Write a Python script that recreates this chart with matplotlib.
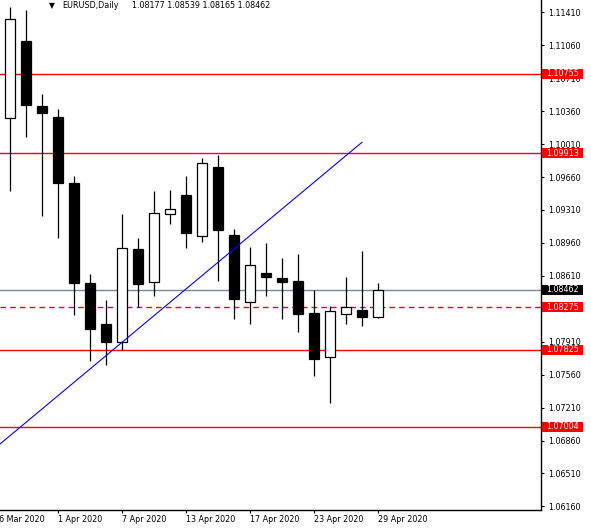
import numpy as np
import matplotlib
matplotlib.use("Agg")
import matplotlib.pyplot as plt
from matplotlib.patches import Rectangle

plt.rcParams['font.family'] = ['DejaVu Sans']

# EURUSD daily candles, 27 Mar .. 29 Apr 2020
dates = ["27 Mar", "30 Mar", "31 Mar", "1 Apr", "2 Apr", "3 Apr", "6 Apr",
         "7 Apr", "8 Apr", "9 Apr", "10 Apr", "13 Apr", "14 Apr", "15 Apr",
         "16 Apr", "17 Apr", "20 Apr", "21 Apr", "22 Apr", "23 Apr",
         "24 Apr", "27 Apr", "28 Apr", "29 Apr"]
opens = [1.10284, 1.11103, 1.10415, 1.10298, 1.09597, 1.08531, 1.08099,
         1.07904, 1.08895, 1.08542, 1.09264, 1.09469, 1.09030, 1.09767,
         1.09044, 1.08329, 1.08640, 1.08587, 1.08555, 1.08215, 1.07745,
         1.08202, 1.08247, 1.08177]
highs = [1.11464, 1.11435, 1.10543, 1.10383, 1.09671, 1.08630, 1.08354,
         1.09267, 1.09012, 1.09509, 1.09522, 1.09671, 1.09866, 1.09898,
         1.09108, 1.08917, 1.08959, 1.08800, 1.08842, 1.08457, 1.08290,
         1.08598, 1.08874, 1.08539]
lows = [1.09515, 1.10089, 1.09246, 1.09016, 1.08194, 1.07709, 1.07666,
        1.07822, 1.08282, 1.08399, 1.09164, 1.08906, 1.08973, 1.08559,
        1.08155, 1.08102, 1.08399, 1.08155, 1.08017, 1.07549, 1.07256,
        1.08102, 1.08080, 1.08165]
closes = [1.11336, 1.10429, 1.10344, 1.09600, 1.08537, 1.08049, 1.07910,
          1.08903, 1.08527, 1.09275, 1.09317, 1.09069, 1.09806, 1.09101,
          1.08367, 1.08722, 1.08601, 1.08548, 1.08208, 1.07730, 1.08233,
          1.08276, 1.08176, 1.08462]

# horizontal levels
solid_levels = [1.10755, 1.09913, 1.07825, 1.07004]
dashed_level = 1.08275
bid_price = 1.08462

# trendline anchors (bar index, price)
trend_x = [-1, 22]
trend_y = [1.06770, 1.10029]

# axis ticks
date_tick_pos = [-1, 3, 7, 11, 15, 19, 23]
date_tick_labels = ["26 Mar 2020", "1 Apr 2020", "7 Apr 2020", "13 Apr 2020",
                    "17 Apr 2020", "23 Apr 2020", "29 Apr 2020"]
price_ticks = [1.06160, 1.06510, 1.06860, 1.07210, 1.07560, 1.07910,
               1.08260, 1.08610, 1.08960, 1.09310, 1.09660, 1.10010,
               1.10360, 1.10710, 1.11060, 1.11410]
hidden_tick = 1.08260  # fully covered by the 1.08275 label box

W, H = 591, 532
fig = plt.figure(figsize=(W / 100, H / 100), dpi=100)
ax = fig.add_axes([0, 22 / H, 541 / W, 510 / H])
ax.set_xlim(-0.625, 33.19)
ax.set_ylim(1.06122, 1.11541)

# candles
xs = np.arange(len(opens))
body_w = 0.6
for x, o, h, l, c in zip(xs, opens, highs, lows, closes):
    ax.vlines(x, l, h, color='black', lw=0.9, zorder=3)
    bull = c >= o
    ax.add_patch(Rectangle((x - body_w / 2, min(o, c)), body_w, abs(c - o),
                           facecolor='white' if bull else 'black',
                           edgecolor='black', lw=0.9, zorder=4))

# levels
for lv in solid_levels:
    ax.axhline(lv, color='red', lw=1.0, zorder=2)
ax.axhline(dashed_level, color='red', lw=1.0, ls=(0, (4, 3)), zorder=2)
ax.axhline(bid_price, color='#778899', lw=1.0, zorder=2)

# trendline
ax.plot(trend_x, trend_y, color='blue', lw=0.8, zorder=5)

# spines
for s in ['left', 'top']:
    ax.spines[s].set_visible(False)
for s in ['right', 'bottom']:
    ax.spines[s].set_linewidth(1.0)

# y axis on the right
ax.yaxis.tick_right()
ax.set_yticks(price_ticks)
ax.set_yticklabels(["" if abs(p - hidden_tick) < 1e-9 else f"{p:.5f}"
                    for p in price_ticks])
ax.tick_params(axis='y', length=2.5, width=0.8, pad=2.5, labelsize=5.8)

# x axis ticks (labels drawn by hand, left aligned like MT4)
ax.set_xticks([p for p in date_tick_pos if p >= -0.625])
ax.set_xticklabels([])
ax.tick_params(axis='x', length=2.5, width=0.8)
for p, lab in zip(date_tick_pos, date_tick_labels):
    ax.text(p, -9.5 / 510, lab, transform=ax.get_xaxis_transform(),
            ha='left', va='center', fontsize=5.8, clip_on=False)

# price label boxes on the right axis
box_h = 10 / 9411
labels = [(lv, 'red') for lv in solid_levels + [dashed_level]] + \
         [(bid_price, 'black')]
for lv, col in labels:
    ax.add_patch(Rectangle((542 / 541, lv - box_h / 2), 41 / 541, box_h,
                           transform=ax.get_yaxis_transform(),
                           facecolor=col, edgecolor='none',
                           clip_on=False, zorder=10))
    ax.text(562.5 / 541, lv, f"{lv:.5f}", transform=ax.get_yaxis_transform(),
            ha='center', va='center', color='white', fontsize=5.8,
            clip_on=False, zorder=11)

# header
fig.text(49 / W, 1 - 5.5 / H, "\u25bc", fontsize=5.5, ha='left', va='center')
fig.text(62 / W, 1 - 6 / H, "EURUSD,Daily", fontsize=5.8,
         ha='left', va='center')
fig.text(132 / W, 1 - 6 / H, "1.08177 1.08539 1.08165 1.08462",
         fontsize=5.8, ha='left', va='center')

fig.savefig("out.png", dpi=100)
